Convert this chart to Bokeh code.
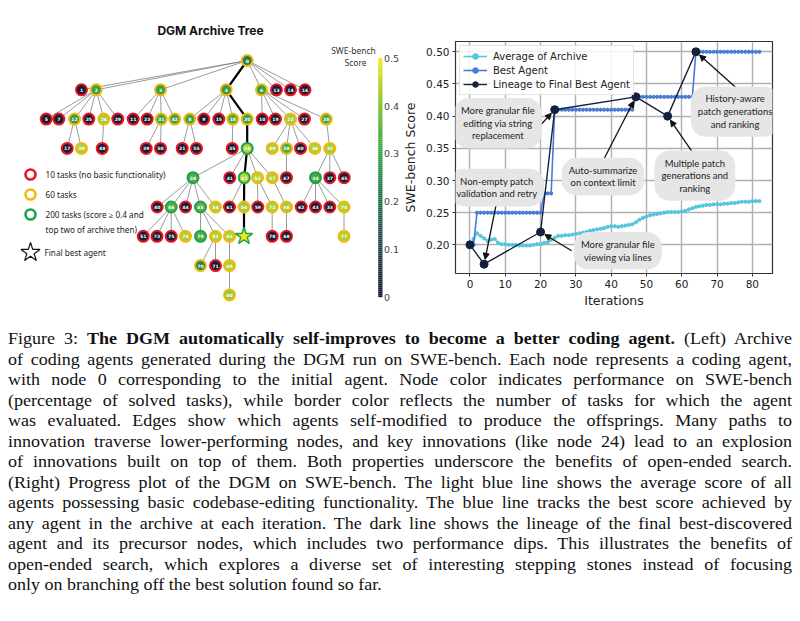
from bokeh.plotting import figure
from bokeh.models import (Range1d, Label, Arrow, NormalHead, Legend, LegendItem, Div, FixedTicker,
                          ColumnDataSource, NumeralTickFormatter)
from bokeh.layouts import column, row
from bokeh.core.properties import value
from bokeh.embed import file_html
from bokeh.resources import INLINE

# ======================= DATA : progress plot =======================
iterations = list(range(83))
avg_archive = [0.200, 0.209, 0.218, 0.214, 0.210, 0.206, 0.208, 0.209, 0.203, 0.201,
               0.201, 0.200, 0.200, 0.200, 0.199, 0.199, 0.199, 0.199, 0.200, 0.201,
               0.201, 0.203, 0.204, 0.208, 0.211, 0.214, 0.214, 0.215, 0.215, 0.216,
               0.217, 0.218, 0.219, 0.220, 0.222, 0.223, 0.224, 0.225, 0.226, 0.228,
               0.229, 0.229, 0.228, 0.229, 0.230, 0.231, 0.232, 0.235, 0.239, 0.242,
               0.244, 0.246, 0.247, 0.248, 0.249, 0.250, 0.251, 0.251, 0.251, 0.251,
               0.252, 0.253, 0.255, 0.257, 0.259, 0.260, 0.261, 0.262, 0.262, 0.263,
               0.263, 0.263, 0.264, 0.264, 0.265, 0.265, 0.266, 0.267, 0.267, 0.267,
               0.268, 0.268, 0.268]
best_agent = [0.20, 0.20, 0.25, 0.25, 0.25, 0.25, 0.25, 0.25, 0.25, 0.25,
              0.25, 0.25, 0.25, 0.25, 0.25, 0.25, 0.25, 0.25, 0.25, 0.25,
              0.25, 0.28, 0.28, 0.28, 0.41, 0.41, 0.41, 0.41, 0.41, 0.41,
              0.41, 0.41, 0.41, 0.41, 0.41, 0.41, 0.41, 0.41, 0.41, 0.41,
              0.41, 0.41, 0.41, 0.41, 0.41, 0.41, 0.41, 0.43, 0.43, 0.43,
              0.43, 0.43, 0.43, 0.43, 0.43, 0.43, 0.43, 0.43, 0.43, 0.43,
              0.43, 0.43, 0.43, 0.43, 0.50, 0.50, 0.50, 0.50, 0.50, 0.50,
              0.50, 0.50, 0.50, 0.50, 0.50, 0.50, 0.50, 0.50, 0.50, 0.50,
              0.50, 0.50, 0.50]
lineage_iter = [0, 4, 20, 24, 47, 56, 64]
lineage_score = [0.20, 0.17, 0.22, 0.41, 0.43, 0.40, 0.50]

annot_text = ["More granular file\nediting via string\nreplacement",
              "Non-empty patch\nvalidation and retry",
              "Auto-summarize\non context limit",
              "Multiple patch\ngenerations and\nranking",
              "History-aware\npatch generations\nand ranking",
              "More granular file\nviewing via lines"]
annot_target = [3, 1, 4, 5, 6, 2]          # index into lineage
x_ticks = [0, 10, 20, 30, 40, 50, 60, 70, 80]
y_ticks = [0.20, 0.25, 0.30, 0.35, 0.40, 0.45, 0.50]

# ======================= DATA : archive tree =======================
tree_ids = ["0",
            "1", "2", "3", "4", "6", "13", "14", "16",
            "5", "7", "12", "25", "26", "29", "11", "23", "31", "42", "8", "9", "15", "18", "20",
            "10", "19", "22", "27", "28",
            "17", "30", "48", "39", "50", "21", "55", "35", "24", "49", "58", "60", "36", "32",
            "38", "41", "47", "53", "57", "67", "34", "37", "45",
            "40", "46", "44", "65", "54", "61", "56", "59", "72", "66", "62", "43", "33", "74",
            "51", "73", "75", "76", "79", "52", "63", "64", "78", "68", "77",
            "70", "71", "69",
            "80"]
tree_parent = [None,
               "0", "0", "0", "0", "0", "0", "0", "0",
               "2", "2", "2", "2", "2", "2", "3", "3", "3", "3", "4", "4", "4", "4", "4",
               "6", "6", "6", "6", "6",
               "12", "12", "26", "31", "31", "8", "8", "18", "20", "22", "22", "22", "22", "28",
               "24", "24", "24", "24", "24", "58", "32", "32", "32",
               "38", "38", "38", "38", "38", "47", "47", "53", "53", "57", "34", "34", "34", "34",
               "46", "46", "46", "46", "65", "65", "65", "56", "72", "66", "74",
               "52", "52", "63",
               "69"]
tree_score = [0.24,
              0.00, 0.30, 0.30, 0.29, 0.30, 0.00, 0.00, 0.00,
              0.00, 0.00, 0.29, 0.00, 0.42, 0.00, 0.00, 0.00, 0.31, 0.30, 0.31, 0.00, 0.00, 0.32, 0.30,
              0.00, 0.00, 0.42, 0.00, 0.32,
              0.00, 0.43, 0.00, 0.00, 0.00, 0.00, 0.00, 0.00, 0.43, 0.43, 0.32, 0.00, 0.43, 0.42,
              0.33, 0.00, 0.44, 0.44, 0.43, 0.00, 0.32, 0.00, 0.00,
              0.00, 0.34, 0.00, 0.34, 0.43, 0.00, 0.42, 0.00, 0.43, 0.42, 0.00, 0.00, 0.00, 0.43,
              0.00, 0.00, 0.00, 0.43, 0.33, 0.43, 0.43, 0.50, 0.00, 0.00, 0.43,
              0.24, 0.00, 0.43,
              0.41]
tree_tasks = [60,
              10, 60, 60, 60, 60, 10, 10, 10,
              10, 10, 60, 10, 60, 10, 10, 10, 60, 60, 60, 10, 10, 60, 60,
              10, 10, 60, 10, 60,
              10, 60, 10, 10, 10, 10, 10, 10, 200, 60, 60, 10, 60, 60,
              200, 10, 200, 60, 60, 10, 200, 10, 10,
              10, 200, 10, 200, 60, 10, 60, 10, 60, 60, 10, 10, 10, 60,
              10, 10, 10, 60, 200, 60, 60, 200, 10, 10, 60,
              60, 10, 60,
              60]
final_best = "64"
cbar_ticks = [0.0, 0.1, 0.2, 0.3, 0.4, 0.5]
cbar_tick_labels = ["0", "0.1", "0.2", "0.3", "0.4", "0.5"]
legend_tasks = [10, 60, 200]
legend_texts = ["10 tasks (no basic functionality)", "60 tasks",
                "200 tasks (score \u2265 0.4 and\ntop two of archive then)"]

# ======================= LAYOUT / STYLE =======================
TREE_X = {"0": 246.7,
          "1": 81, "2": 95.7, "3": 160, "4": 225.7, "6": 261, "13": 276, "14": 290, "16": 304.5,
          "5": 45.7, "7": 58.3, "12": 74, "25": 88.3, "26": 103.3, "29": 117.3, "11": 132.7,
          "23": 146.7, "31": 160.7, "42": 174.3, "8": 189.3, "9": 203.3, "15": 218.3, "18": 232.3,
          "20": 246.7, "10": 261.7, "19": 275, "22": 290, "27": 304, "28": 325.7,
          "17": 66.7, "30": 81, "48": 101.7, "39": 145.7, "50": 160, "21": 181.7, "55": 196,
          "35": 231.7, "24": 246.7, "49": 271.7, "58": 286, "60": 300, "36": 314.3, "32": 329.3,
          "38": 192.5, "41": 229.3, "47": 243.7, "53": 257, "57": 271.7, "67": 286, "34": 315,
          "37": 329.3, "45": 343.7,
          "40": 156.7, "46": 170.7, "44": 185, "65": 200, "54": 215, "61": 229, "56": 243.5,
          "59": 257.3, "72": 271.7, "66": 286, "62": 300.7, "43": 315, "33": 329.3, "74": 343.5,
          "51": 142.7, "73": 156.5, "75": 170.7, "76": 185, "79": 200, "52": 215, "63": 229,
          "64": 243.5, "78": 271.7, "68": 286, "77": 343.5,
          "70": 200, "71": 215, "69": 229,
          "80": 229}
ROW0_Y, ROW_STEP = 60.0, 29.3
CMAP = [(0.00, "#161c36"), (0.10, "#1b3a44"), (0.20, "#1e6a48"),
        (0.30, "#34a048"), (0.40, "#8cc640"), (0.50, "#f5e61a")]
TASK_COLOR = {10: "#e5161f", 60: "#f0b810", 200: "#1ea34a"}

BUBBLE_XY = [(7.9, 0.389), (7.6, 0.289), (37.7, 0.306), (63.7, 0.3075), (75.1, 0.407), (41.9, 0.1908)]
TAIL_XY = [(19.6, 0.384), (7.6, 0.2676), (37.7, 0.3306), (63.4, 0.341), (75.4, 0.444), (28.8, 0.1908)]

AVG_C, BEST_C, LIN_C = "#55c6dc", "#4a7bd6", "#15203f"
TICK_FONT = "DejaVu Sans"


def hex2rgb(h):
    return tuple(int(h[i:i + 2], 16) for i in (1, 3, 5))


def cmap(s):
    s = max(0.0, min(0.5, s))
    for (v0, c0), (v1, c1) in zip(CMAP[:-1], CMAP[1:]):
        if s <= v1:
            t = (s - v0) / (v1 - v0)
            a, b = hex2rgb(c0), hex2rgb(c1)
            return "#%02x%02x%02x" % tuple(round(a[i] + (b[i] - a[i]) * t) for i in range(3))
    return CMAP[-1][1]


# ======================= LEFT PANEL : archive tree =======================
p1 = figure(width=400, height=310, x_range=Range1d(0, 400), y_range=Range1d(310, 0),
            output_backend="svg", toolbar_location=None, min_border=0,
            x_axis_location=None, y_axis_location=None)
p1.frame_align = False
p1.grid.visible = False
p1.outline_line_color = None

parent_of = dict(zip(tree_ids, tree_parent))


def depth(n):
    d = 0
    while parent_of[n] is not None:
        n = parent_of[n]
        d += 1
    return d


node_y = {n: ROW0_Y + ROW_STEP * depth(n) for n in tree_ids}
lineage_edges = set(zip([str(v) for v in lineage_iter[:-1]], [str(v) for v in lineage_iter[1:]]))

e = dict(x0=[], y0=[], x1=[], y1=[])
le = dict(x0=[], y0=[], x1=[], y1=[])
for n, par in zip(tree_ids, tree_parent):
    if par is None:
        continue
    tgt = le if (par, n) in lineage_edges else e
    tgt["x0"].append(TREE_X[par]); tgt["y0"].append(node_y[par])
    tgt["x1"].append(TREE_X[n]); tgt["y1"].append(node_y[n])
p1.segment(x0="x0", y0="y0", x1="x1", y1="y1", source=ColumnDataSource(e),
           line_color="#808080", line_width=0.8)
p1.segment(x0="x0", y0="y0", x1="x1", y1="y1", source=ColumnDataSource(le),
           line_color="#000000", line_width=2.2)

nodes = dict(x=[], y=[], label=[], fill=[], line=[])
for n, s, t in zip(tree_ids, tree_score, tree_tasks):
    if n == final_best:
        continue
    nodes["x"].append(TREE_X[n]); nodes["y"].append(node_y[n]); nodes["label"].append(n)
    nodes["fill"].append(cmap(s)); nodes["line"].append(TASK_COLOR[t])
nsrc = ColumnDataSource(nodes)
p1.scatter(x="x", y="y", source=nsrc, marker="circle", size=11, fill_color="fill",
           line_color="line", line_width=2)
p1.text(x="x", y="y", text="label", source=nsrc, text_color="white", text_font_size="4.5px",
        text_font=value("DejaVu Sans"), text_font_style="bold", text_align="center",
        text_baseline="middle")
fb = tree_ids.index(final_best)
p1.scatter(x=[TREE_X[final_best]], y=[node_y[final_best]], marker="star", size=18,
           fill_color=cmap(tree_score[fb]), line_color=TASK_COLOR[tree_tasks[fb]], line_width=1.5)

p1.add_layout(Label(x=210, y=30, text="DGM Archive Tree", text_font="Inter", text_font_style="bold",
                    text_font_size="12px", text_align="center", text_baseline="middle",
                    text_color="#111"))

for i, (tk, txt) in enumerate(zip(legend_tasks, legend_texts)):
    yy = 174 + 20 * i
    p1.scatter(x=[30], y=[yy], marker="circle", size=10, fill_color=None,
               line_color=TASK_COLOR[tk], line_width=2.6)
    multi = "\n" in txt
    p1.add_layout(Label(x=45, y=yy - 6 if multi else yy, text=txt, text_font="Noto Sans",
                        text_font_size="8.2px", text_baseline="top" if multi else "middle",
                        text_color="#222", text_line_height=1.45))
p1.scatter(x=[30], y=[252], marker="star", size=20, fill_color="white", line_color="#111",
           line_width=1.2)
p1.add_layout(Label(x=44, y=252, text="Final best agent", text_font="Noto Sans",
                    text_font_size="8.2px", text_baseline="middle", text_color="#222"))

CB_X0, CB_X1, CB_TOP, CB_BOT = 377.7, 382.0, 57.7, 296.7


def cb_y(s):
    return CB_BOT - (CB_BOT - CB_TOP) * s / 0.5


steps = 120
cb = dict(top=[], bottom=[], color=[])
for k in range(steps):
    s0, s1 = 0.5 * k / steps, 0.5 * (k + 1) / steps
    cb["bottom"].append(cb_y(s0)); cb["top"].append(cb_y(s1)); cb["color"].append(cmap((s0 + s1) / 2))
p1.quad(left=CB_X0, right=CB_X1, top="top", bottom="bottom", fill_color="color", line_color=None,
        source=ColumnDataSource(cb))
p1.text(x=[CB_X1 + 1.5] * len(cbar_ticks), y=[cb_y(v) for v in cbar_ticks], text=cbar_tick_labels,
        text_font=value(TICK_FONT), text_font_size="9.5px", text_color="#444",
        text_align="left", text_baseline="middle")
p1.add_layout(Label(x=353, y=50, text="SWE-bench", text_font="Noto Sans", text_font_size="8.5px",
                    text_align="center", text_baseline="middle", text_color="#333"))
p1.add_layout(Label(x=355, y=61.7, text="Score", text_font="Noto Sans", text_font_size="8.5px",
                    text_align="center", text_baseline="middle", text_color="#333"))

# ======================= RIGHT PANEL : progress =======================
p2 = figure(width=400, height=310, x_range=Range1d(-4.1, 85.7), y_range=Range1d(0.1555, 0.516),
            output_backend="svg", toolbar_location=None, min_border_left=50, min_border_right=28,
            min_border_top=41, min_border_bottom=34)
p2.frame_align = False
p2.outline_line_color = "#333333"
p2.outline_line_width = 1.2
for ax in (p2.xaxis, p2.yaxis):
    ax.axis_line_color = None
    ax.major_tick_line_color = "#333333"
    ax.major_tick_out = 3
    ax.major_tick_in = 0
    ax.minor_tick_line_color = None
    ax.major_label_text_font = TICK_FONT
    ax.major_label_text_font_size = "10.5px"
    ax.major_label_text_color = "#222"
    ax.axis_label_text_font = TICK_FONT
    ax.axis_label_text_font_size = "12.5px"
    ax.axis_label_text_font_style = "normal"
    ax.axis_label_text_color = "#222"
p2.xaxis.ticker = FixedTicker(ticks=x_ticks)
p2.yaxis.ticker = FixedTicker(ticks=y_ticks)
p2.yaxis.formatter = NumeralTickFormatter(format="0.00")
p2.xaxis.axis_label = "Iterations"
p2.yaxis.axis_label = "SWE-bench Score"
p2.xaxis.major_label_standoff = 3
p2.yaxis.major_label_standoff = 3
p2.xaxis.axis_label_standoff = 2
p2.yaxis.axis_label_standoff = 5
p2.grid.grid_line_color = "#b0b0b0"
p2.grid.grid_line_width = 1.4

r_avg_l = p2.line(iterations, avg_archive, line_color=AVG_C, line_width=1.6)
r_avg_s = p2.scatter(iterations, avg_archive, marker="circle", size=3.2, color=AVG_C)
r_best_l = p2.line(iterations, best_agent, line_color=BEST_C, line_width=1.6)
r_best_s = p2.scatter(iterations, best_agent, marker="circle", size=3.2, color=BEST_C)
r_lin_l = p2.line(lineage_iter, lineage_score, line_color=LIN_C, line_width=1.4)
r_lin_s = p2.scatter(lineage_iter, lineage_score, marker="circle", size=8, color=LIN_C)

legend = Legend(items=[LegendItem(label="Average of Archive", renderers=[r_avg_l, r_avg_s]),
                       LegendItem(label="Best Agent", renderers=[r_best_l, r_best_s]),
                       LegendItem(label="Lineage to Final Best Agent", renderers=[r_lin_l, r_lin_s])],
                location="top_left", margin=4, padding=3, spacing=0, label_height=14,
                glyph_height=14, glyph_width=24, label_standoff=6,
                label_text_font=TICK_FONT, label_text_font_size="10px", label_text_color="#222",
                border_line_color="#cccccc", background_fill_alpha=0.85)
p2.add_layout(legend)

PX_X = 322.0 / (85.7 + 4.1)
PX_Y = 235.0 / (0.516 - 0.1555)
for txt, ti, (bx, by), (tx, ty) in zip(annot_text, annot_target, BUBBLE_XY, TAIL_XY):
    px, py = lineage_iter[ti], lineage_score[ti]
    dxp, dyp = (tx - px) * PX_X, (ty - py) * PX_Y
    dist = (dxp ** 2 + dyp ** 2) ** 0.5
    off = 5.0 / dist
    ex, ey = px + (tx - px) * off, py + (ty - py) * off
    p2.add_layout(Arrow(end=NormalHead(size=6, fill_color="#111", line_color="#111"),
                        x_start=tx, y_start=ty, x_end=ex, y_end=ey, line_color="#111", line_width=1.3))
    p2.add_layout(Label(x=bx, y=by, text=txt, text_font="Lato", text_font_size="9.5px",
                        text_align="center", text_baseline="middle", text_color="#222",
                        text_line_height=1.15, background_fill_color="#e6e6e6",
                        border_line_color=None, padding=7, border_radius=15))

p2.add_layout(Label(x=35.5, y=0.5476, text="DGM Progress", text_font="Inter", text_font_style="bold",
                    text_font_size="12px", text_align="center", text_baseline="middle",
                    text_color="#111"))

# ======================= CAPTION =======================
caption_lines = [
    "Figure 3: <b>The DGM automatically self-improves to become a better coding agent.</b> (Left) Archive",
    "of coding agents generated during the DGM run on SWE-bench. Each node represents a coding agent,",
    "with node 0 corresponding to the initial agent. Node color indicates performance on SWE-bench",
    "(percentage of solved tasks), while border color reflects the number of tasks for which the agent",
    "was evaluated. Edges show which agents self-modified to produce the offsprings. Many paths to",
    "innovation traverse lower-performing nodes, and key innovations (like node 24) lead to an explosion",
    "of innovations built on top of them. Both properties underscore the benefits of open-ended search.",
    "(Right) Progress plot of the DGM on SWE-bench. The light blue line shows the average score of all",
    "agents possessing basic codebase-editing functionality. The blue line tracks the best score achieved by",
    "any agent in the archive at each iteration. The dark line shows the lineage of the final best-discovered",
    "agent and its precursor nodes, which includes two performance dips. This illustrates the benefits of",
    "open-ended search, which explores a diverse set of interesting stepping stones instead of focusing",
    "only on branching off the best solution found so far.",
]
inner = "".join(
    '<div style="text-align:justify;text-align-last:justify;white-space:nowrap;">%s</div>' % l
    for l in caption_lines[:-1]) + '<div style="text-align:left;">%s</div>' % caption_lines[-1]
html = ('<div style="width:740px;transform:scaleX(1.0595);transform-origin:0 0;'
        'font-family:\'Liberation Serif\',\'Times New Roman\',serif;font-size:17px;'
        'line-height:20.5px;color:#111;">' + inner + '</div>')
caption = Div(text=html, width=784, height=280, margin=(19, 0, 0, 8))

layout = column(row(p1, p2), caption)
open("out.html", "w").write(file_html(layout, INLINE))
